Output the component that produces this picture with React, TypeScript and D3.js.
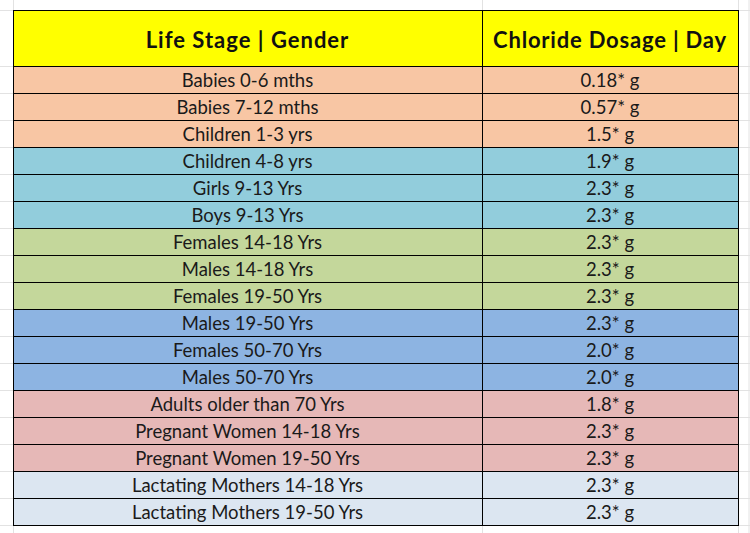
import React from "react";
import * as d3 from "d3";

const headers = ["Life Stage | Gender", "Chloride Dosage | Day"];
const stages = [
  "Babies 0-6 mths",
  "Babies 7-12 mths",
  "Children 1-3 yrs",
  "Children 4-8 yrs",
  "Girls 9-13 Yrs",
  "Boys 9-13 Yrs",
  "Females 14-18 Yrs",
  "Males 14-18 Yrs",
  "Females 19-50 Yrs",
  "Males 19-50 Yrs",
  "Females 50-70 Yrs",
  "Males 50-70 Yrs",
  "Adults older than 70 Yrs",
  "Pregnant Women 14-18 Yrs",
  "Pregnant Women 19-50 Yrs",
  "Lactating Mothers 14-18 Yrs",
  "Lactating Mothers 19-50 Yrs",
];
const dosages = ["0.18", "0.57", "1.5", "1.9", "2.3", "2.3", "2.3", "2.3", "2.3", "2.3", "2.0", "2.0", "1.8", "2.3", "2.3", "2.3", "2.3"];
const groups = [0, 0, 0, 1, 1, 1, 2, 2, 2, 3, 3, 3, 4, 4, 4, 5, 5];
const groupColors = ["#F8C6A4", "#92CDDC", "#C4D79B", "#8DB4E2", "#E6B8B7", "#DCE6F1"];

const W = 750;
const H = 533;
const left = 13;
const mid = 482;
const right = 738;
const top = 10;
const headerBottom = 66;
const rowH = 27;

export default function App() {
  const y = d3
    .scaleBand<number>()
    .domain(d3.range(stages.length))
    .range([headerBottom, headerBottom + rowH * stages.length])
    .padding(0);
  const bottom = headerBottom + rowH * stages.length;
  const font = "Lato, 'Open Sans', sans-serif";
  const gridX = [left, mid, right];
  const gridY = [top, headerBottom, ...stages.map((_, i) => (y(i) as number) + rowH)];
  return (
    <svg width={W} height={H} style={{ position: "absolute", left: 0, top: 0, background: "#fff" }}>
      {/* spreadsheet gridlines */}
      {gridX.map((x, i) => (
        <line key={"gx" + i} x1={x + 0.5} x2={x + 0.5} y1={0} y2={H} stroke="#E2E2E2" />
      ))}
      <line x1={W - 1} x2={W - 1} y1={0} y2={H} stroke="#E2E2E2" />
      {gridY.map((yy, i) => (
        <g key={"gy" + i}>
          <line x1={0} x2={left} y1={yy + 0.5} y2={yy + 0.5} stroke="#E2E2E2" />
          <line x1={right} x2={W} y1={yy + 0.5} y2={yy + 0.5} stroke="#E2E2E2" />
        </g>
      ))}
      {/* header */}
      <rect x={left} y={top} width={right - left} height={headerBottom - top} fill="#FFFF00" />
      <text x={(left + mid) / 2} y={(top + headerBottom) / 2 + 10} textAnchor="middle" fontFamily={font} fontWeight="bold" fontSize={22} letterSpacing={1} fill="#111">
        {headers[0]}
      </text>
      <text x={(mid + right) / 2} y={(top + headerBottom) / 2 + 10} textAnchor="middle" fontFamily={font} fontWeight="bold" fontSize={22} letterSpacing={0.8} fill="#111">
        {headers[1]}
      </text>
      {/* rows */}
      {stages.map((s, i) => {
        const yy = y(i) as number;
        return (
          <g key={s}>
            <rect x={left} y={yy} width={right - left} height={rowH} fill={groupColors[groups[i]]} />
            <text x={(left + mid) / 2} y={yy + rowH / 2 + 7.5} textAnchor="middle" fontFamily={font} fontSize={18.5} fill="#1a1a1a">
              {s}
            </text>
            <text x={(mid + right) / 2} y={yy + rowH / 2 + 7.5} textAnchor="middle" fontFamily={font} fontSize={18.5} fill="#1a1a1a">
              {dosages[i] + "* g"}
            </text>
          </g>
        );
      })}
      {/* borders */}
      {gridY.map((yy, i) => (
        <line key={"by" + i} x1={left} x2={right + 1} y1={yy + 0.5} y2={yy + 0.5} stroke="#000" />
      ))}
      {gridX.map((x, i) => (
        <line key={"bx" + i} x1={x + 0.5} x2={x + 0.5} y1={top} y2={bottom + 1} stroke="#000" />
      ))}
    </svg>
  );
}
